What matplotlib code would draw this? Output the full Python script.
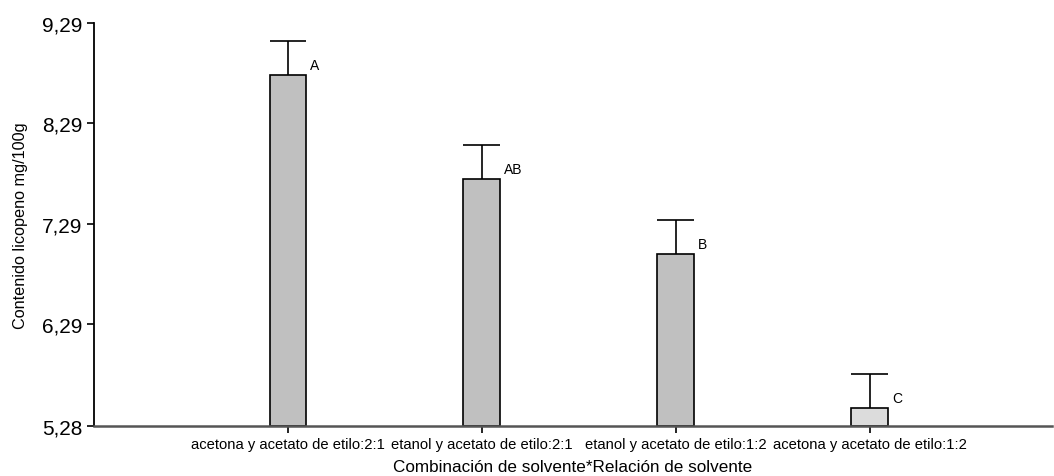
import numpy as np
import matplotlib.pyplot as plt

plt.rcParams['font.family'] = ['Liberation Sans', 'DejaVu Sans']

categorias = ["acetona y acetato de etilo:2:1", "etanol y acetato de etilo:2:1",
              "etanol y acetato de etilo:1:2", "acetona y acetato de etilo:1:2"]
medias = [8.77, 7.74, 6.99, 5.46]
errores = [0.34, 0.34, 0.34, 0.34]
letras = ["A", "AB", "B", "C"]
colores = ["#c0c0c0", "#c0c0c0", "#c0c0c0", "#dcdcdc"]
yticks = [5.28, 6.29, 7.29, 8.29, 9.29]

ymin = 5.28
fig = plt.figure(figsize=(10.54, 4.77), dpi=100)
ax = fig.add_axes([94/1054, 50/477, 958/1054, 403/477])

x = np.arange(1, len(medias) + 1)
w = 0.19
medias = np.array(medias)
errores = np.array(errores)
ax.bar(x, medias - ymin, width=w, bottom=ymin, color=colores, edgecolor='black', linewidth=1.2, zorder=2)
# solo la barra de error superior
ax.vlines(x, medias, medias + errores, color='black', linewidth=1.2, zorder=3)
ax.hlines(medias + errores, x - w/2, x + w/2, color='black', linewidth=1.2, zorder=3)
for xi, m, l in zip(x, medias, letras):
    ax.text(xi + w/2 + 0.02, m + 0.03, l, fontsize=10, ha='left', va='bottom')

ax.set_xlim(0, 4.94)
ax.set_ylim(ymin, 9.29)
ax.set_xticks(x)
ax.set_xticklabels(categorias, fontsize=10.6)
ax.set_yticks(yticks)
ax.set_yticklabels([f"{v:.2f}".replace('.', ',') for v in yticks], fontsize=15)
ax.tick_params(axis='both', direction='out', length=5, width=1.2)
ax.tick_params(axis='x', pad=3)
ax.spines['top'].set_visible(False)
ax.spines['right'].set_visible(False)
ax.spines['left'].set_linewidth(1.3)
ax.spines['bottom'].set_linewidth(1.8)
ax.spines['bottom'].set_color('#555555')
ax.set_ylabel("Contenido licopeno mg/100g", fontsize=11.7, labelpad=10)
ax.set_xlabel("Combinación de solvente*Relación de solvente", fontsize=12.3, labelpad=6)

fig.savefig("out.png", dpi=100)
